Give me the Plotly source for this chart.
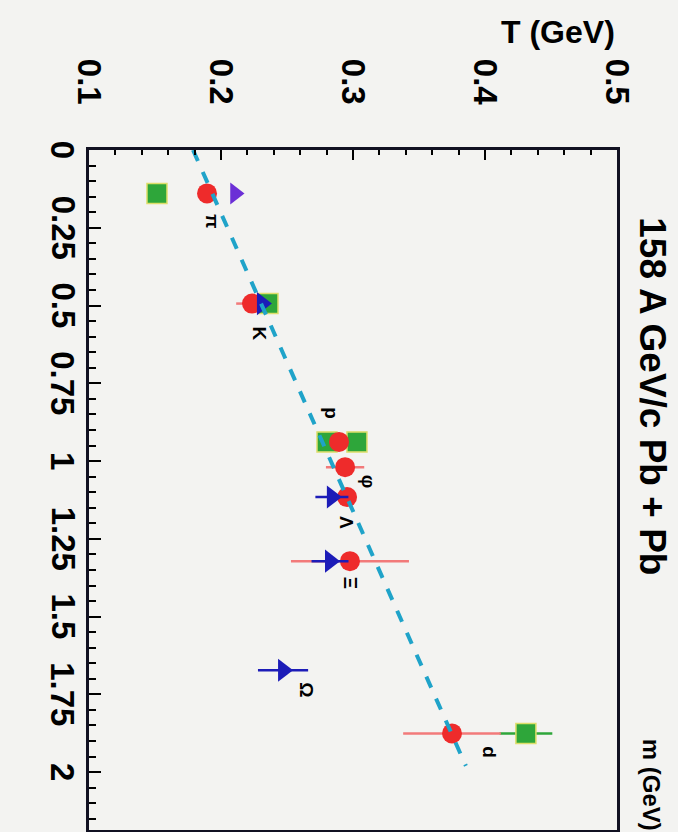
import plotly.graph_objects as go

# ---- data (T in GeV vs particle mass m in GeV) ----
red_m = [0.1396, 0.4937, 0.9383, 1.0195, 1.1157, 1.3217, 1.8756]
red_T = [0.1894, 0.2235, 0.2894, 0.2940, 0.2955, 0.2977, 0.3750]
red_err = [0.0, 0.012, 0.0, 0.0145, 0.0, 0.0447, 0.037]

blue_m = [0.4937, 1.1157, 1.3217, 1.6725]
blue_T = [0.2310, 0.2840, 0.2826, 0.2470]
blue_err = [0.0, 0.0125, 0.014, 0.019]

violet_m = [0.1396]
violet_T = [0.2106]

green_m = [0.1396, 0.4937, 0.9383, 0.9383, 1.8756]
green_T = [0.1515, 0.2356, 0.2803, 0.3030, 0.4310]
green_err = [0.0, 0.0, 0.0, 0.0, 0.020]

fit_m = [0.0, 1.98]
fit_intercept = 0.1788
fit_slope = 0.1044
fit_T = [fit_intercept + fit_slope * m for m in fit_m]

label_text = ["π", "K", "p", "φ", "Λ", "Ξ", "Ω", "d"]
label_m = [0.228, 0.590, 0.846, 1.067, 1.196, 1.391, 1.734, 1.936]
label_T = [0.1932, 0.2295, 0.2840, 0.3114, 0.2955, 0.2977, 0.2652, 0.4038]

t_ticks = [0.1, 0.2, 0.3, 0.4, 0.5]
t_ticktext = ["0.1", "0.2", "0.3", "0.4", "0.5"]
m_ticks = [0, 0.25, 0.5, 0.75, 1, 1.25, 1.5, 1.75, 2]
m_ticktext = ["0", "0.25", "0.5", "0.75", "1", "1.25", "1.5", "1.75", "2"]

FONT = "Liberation Sans"
BG = "#f3f3f1"

fig = go.Figure()

fig.add_trace(go.Scatter(
    x=green_T, y=green_m, mode="markers",
    marker=dict(symbol="square", size=20, color="#2ea63a",
                line=dict(color="#dede6a", width=1.5)),
    error_x=dict(type="data", array=green_err, color="#2ea63a", thickness=2.5, width=0),
    showlegend=False))

fig.add_trace(go.Scatter(
    x=red_T, y=red_m, mode="markers",
    marker=dict(symbol="circle", size=20, color="#ee2b2b"),
    error_x=dict(type="data", array=red_err, color="#f27a7a", thickness=2.5, width=0),
    showlegend=False))

fig.add_trace(go.Scatter(
    x=violet_T, y=violet_m, mode="markers",
    marker=dict(symbol="triangle-right", size=19, color="#6b2fd6"),
    showlegend=False))

fig.add_trace(go.Scatter(
    x=blue_T, y=blue_m, mode="markers",
    marker=dict(symbol="triangle-right", size=20, color="#1c1cb8"),
    error_x=dict(type="data", array=blue_err, color="#1c1cb8", thickness=2.5, width=0),
    showlegend=False))

fig.add_trace(go.Scatter(
    x=fit_T, y=fit_m, mode="lines",
    line=dict(color="#1fa3c9", width=4, dash="dash"),
    showlegend=False))

for txt, m, t in zip(label_text, label_m, label_T):
    fig.add_annotation(x=t, y=m, text=txt, showarrow=False, textangle=90,
                       xanchor="center", yanchor="middle",
                       font=dict(family=FONT, size=19, color="black", weight="bold"))

# m-axis tick labels (rotated), placed just left of the frame
for val, txt in zip(m_ticks, m_ticktext):
    fig.add_annotation(x=-0.049, y=val, xref="paper", yref="y", text=txt,
                       showarrow=False, textangle=90, xanchor="center", yanchor="middle",
                       font=dict(family=FONT, size=33, color="black", weight="bold"))

fig.add_annotation(x=0.888, y=1.1735, xref="paper", yref="paper", text="T (GeV)",
                   showarrow=False, xanchor="center", yanchor="middle",
                   font=dict(family=FONT, size=32, color="black", weight="bold"))
fig.add_annotation(x=1.068, y=0.638, xref="paper", yref="paper", text="158 A GeV/c Pb + Pb",
                   showarrow=False, textangle=90, xanchor="center", yanchor="middle",
                   font=dict(family=FONT, size=37, color="black", weight="bold"))
fig.add_annotation(x=1.067, y=0.066, xref="paper", yref="paper", text="m (GeV)",
                   showarrow=False, textangle=90, xanchor="center", yanchor="middle",
                   font=dict(family=FONT, size=24, color="black", weight="bold"))

fig.update_layout(
    width=678, height=832,
    margin=dict(l=89, r=61, t=150, b=2, autoexpand=False),
    paper_bgcolor=BG, plot_bgcolor=BG,
    xaxis=dict(range=[0.1, 0.5], side="top", tickvals=t_ticks, ticktext=t_ticktext,
               tickangle=90, ticks="inside", ticklen=10, tickwidth=2, tickcolor="black",
               minor=dict(dtick=0.02, ticks="inside", ticklen=5, tickwidth=2, tickcolor="black"),
               showline=True, linecolor="#111122", linewidth=2.5, mirror=True,
               showgrid=False, zeroline=False, ticklabelstandoff=31,
               tickfont=dict(family=FONT, size=33, color="black", weight="bold")),
    yaxis=dict(range=[2.186, 0], tickvals=m_ticks, showticklabels=False,
               ticks="inside", ticklen=12, tickwidth=2, tickcolor="black",
               minor=dict(dtick=0.05, ticks="inside", ticklen=7, tickwidth=2, tickcolor="black"),
               showline=True, linecolor="#111122", linewidth=2.5, mirror=True,
               showgrid=False, zeroline=False),
)

fig.write_html("out.html", config={"displayModeBar": False},
               post_script="document.body.style.margin='0';document.body.style.overflow='hidden';")
